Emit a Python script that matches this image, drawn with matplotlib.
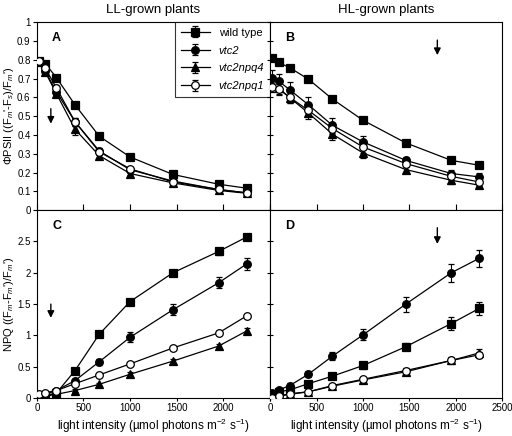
import numpy as np
import matplotlib.pyplot as plt

plt.rcParams['font.family'] = ['Liberation Sans', 'DejaVu Sans']
plt.rcParams['mathtext.fontset'] = 'custom'
plt.rcParams['mathtext.rm'] = 'Liberation Sans'
plt.rcParams['mathtext.it'] = 'Liberation Sans:italic'

# light intensities (umol photons m-2 s-1)
light = [20, 90, 210, 410, 670, 1000, 1460, 1950, 2250]

names = ['wild type', 'vtc2', 'vtc2npq4', 'vtc2npq1']

# A: PhiPSII, LL-grown
phi_ll = {
    'wild type': [0.795, 0.78, 0.705, 0.56, 0.393, 0.283, 0.19, 0.138, 0.117],
    'vtc2':      [0.79, 0.74, 0.63, 0.47, 0.315, 0.215, 0.155, 0.11, 0.092],
    'vtc2npq4':  [0.79, 0.735, 0.62, 0.43, 0.29, 0.195, 0.145, 0.105, 0.09],
    'vtc2npq1':  [0.795, 0.755, 0.65, 0.47, 0.31, 0.22, 0.15, 0.11, 0.092],
}
phi_ll_err = {
    'wild type': [0.01, 0.01, 0.01, 0.01, 0.01, 0.01, 0.01, 0.01, 0.01],
    'vtc2':      [0.01, 0.01, 0.015, 0.02, 0.015, 0.01, 0.01, 0.01, 0.01],
    'vtc2npq4':  [0.01, 0.01, 0.02, 0.03, 0.02, 0.01, 0.01, 0.01, 0.01],
    'vtc2npq1':  [0.01, 0.01, 0.015, 0.02, 0.015, 0.01, 0.01, 0.01, 0.01],
}
# B: PhiPSII, HL-grown
phi_hl = {
    'wild type': [0.809, 0.786, 0.758, 0.697, 0.591, 0.478, 0.358, 0.265, 0.239],
    'vtc2':      [0.704, 0.687, 0.64, 0.561, 0.451, 0.363, 0.265, 0.195, 0.177],
    'vtc2npq4':  [0.67, 0.65, 0.598, 0.517, 0.404, 0.304, 0.216, 0.159, 0.133],
    'vtc2npq1':  [0.658, 0.644, 0.60, 0.531, 0.434, 0.336, 0.248, 0.18, 0.15],
}
phi_hl_err = {
    'wild type': [0.01, 0.01, 0.01, 0.01, 0.01, 0.01, 0.01, 0.01, 0.01],
    'vtc2':      [0.04, 0.04, 0.04, 0.04, 0.04, 0.03, 0.02, 0.02, 0.02],
    'vtc2npq4':  [0.03, 0.03, 0.03, 0.03, 0.03, 0.025, 0.02, 0.02, 0.015],
    'vtc2npq1':  [0.03, 0.03, 0.03, 0.03, 0.03, 0.03, 0.02, 0.02, 0.02],
}
# C: NPQ, LL-grown
npq_ll = {
    'wild type': [0.02, 0.04, 0.08, 0.44, 1.02, 1.54, 2.0, 2.34, 2.57],
    'vtc2':      [0.04, 0.06, 0.12, 0.28, 0.58, 0.97, 1.41, 1.84, 2.14],
    'vtc2npq4':  [0.01, 0.03, 0.06, 0.12, 0.22, 0.38, 0.59, 0.83, 1.07],
    'vtc2npq1':  [0.07, 0.085, 0.12, 0.23, 0.37, 0.545, 0.8, 1.04, 1.31],
}
npq_ll_err = {
    'wild type': [0.01, 0.01, 0.02, 0.03, 0.03, 0.04, 0.04, 0.05, 0.05],
    'vtc2':      [0.01, 0.01, 0.02, 0.03, 0.05, 0.08, 0.09, 0.09, 0.09],
    'vtc2npq4':  [0.01, 0.01, 0.01, 0.02, 0.02, 0.03, 0.03, 0.04, 0.05],
    'vtc2npq1':  [0.01, 0.01, 0.01, 0.02, 0.02, 0.02, 0.02, 0.03, 0.03],
}
# D: NPQ, HL-grown
npq_hl = {
    'wild type': [0.07, 0.1, 0.13, 0.23, 0.35, 0.52, 0.82, 1.19, 1.43],
    'vtc2':      [0.08, 0.13, 0.2, 0.38, 0.67, 1.01, 1.5, 2.0, 2.23],
    'vtc2npq4':  [0.0, 0.03, 0.06, 0.1, 0.19, 0.29, 0.42, 0.6, 0.72],
    'vtc2npq1':  [0.0, 0.03, 0.07, 0.1, 0.2, 0.3, 0.44, 0.6, 0.69],
}
npq_hl_err = {
    'wild type': [0.01, 0.01, 0.02, 0.03, 0.04, 0.05, 0.06, 0.1, 0.11],
    'vtc2':      [0.02, 0.03, 0.04, 0.05, 0.07, 0.09, 0.12, 0.14, 0.14],
    'vtc2npq4':  [0.01, 0.01, 0.01, 0.02, 0.02, 0.03, 0.04, 0.05, 0.07],
    'vtc2npq1':  [0.01, 0.01, 0.01, 0.02, 0.02, 0.03, 0.04, 0.04, 0.05],
}

styles = {
    'wild type': dict(marker='s', mfc='black'),
    'vtc2':      dict(marker='o', mfc='black'),
    'vtc2npq4':  dict(marker='^', mfc='black'),
    'vtc2npq1':  dict(marker='o', mfc='white'),
}

fig = plt.figure(figsize=(5.12, 4.36), dpi=100)
axA = fig.add_axes([0.072, 0.518, 0.455, 0.431])
axB = fig.add_axes([0.528, 0.518, 0.453, 0.431])
axC = fig.add_axes([0.072, 0.087, 0.455, 0.431])
axD = fig.add_axes([0.528, 0.087, 0.453, 0.431])


def draw(ax, data, err):
    handles = []
    for n in names:
        st = styles[n]
        h = ax.errorbar(light, data[n], yerr=err[n], color='black', lw=0.9,
                        marker=st['marker'], mfc=st['mfc'], mec='black',
                        ms=5.5, mew=0.9, capsize=2.5, elinewidth=0.8,
                        capthick=0.8, zorder=3)
        handles.append(h)
    ax.set_xlim(0, 2500)
    ax.set_xticks([0, 500, 1000, 1500, 2000, 2500])
    return handles


hs = draw(axA, phi_ll, phi_ll_err)
draw(axB, phi_hl, phi_hl_err)
draw(axC, npq_ll, npq_ll_err)
draw(axD, npq_hl, npq_hl_err)

for ax in (axA, axB):
    ax.set_ylim(0, 1)
    ax.set_yticks(np.arange(0, 1.01, 0.1))
    ax.tick_params(axis='x', direction='in', labelbottom=False, length=4)
for ax in (axC, axD):
    ax.set_ylim(0, 3)
    ax.set_yticks([0, 0.5, 1, 1.5, 2, 2.5])
    ax.tick_params(axis='x', direction='out', labelsize=7, length=2, pad=1.5)
    ax.set_xlabel('light intensity (µmol photons m$^{-2}$ s$^{-1}$)',
                  fontsize=8.5, labelpad=3)
axC.set_xticklabels(['0', '500', '1000', '1500', '2000', ''])

axA.set_yticklabels(['0', '0.1', '0.2', '0.3', '0.4', '0.5', '0.6', '0.7', '0.8', '0.9', '1'])
axC.set_yticklabels(['0', '0.5', '1', '1.5', '2', '2.5'])
for ax in (axA, axC):
    ax.tick_params(axis='y', direction='out', labelsize=7, length=3, pad=1.5)
for ax in (axB, axD):
    ax.tick_params(axis='y', direction='inout', labelleft=False, length=5)

axA.set_ylabel(r"$\Phi$PSII ((F$_m$'-F$_s$)/F$_m$')", fontsize=8, labelpad=1)
axC.set_ylabel(r"NPQ ((F$_m$-F$_m$')/F$_m$')", fontsize=8, labelpad=1)

axA.set_title('LL-grown plants', fontsize=9.5, pad=7)
axB.set_title('HL-grown plants', fontsize=9.5, pad=7)

for ax, lab in zip((axA, axB, axC, axD), 'ABCD'):
    ax.text(0.065, 0.915, lab, transform=ax.transAxes, fontsize=9,
            fontweight='bold', ha='left', va='center')

arrow = dict(arrowstyle='-|>', color='black', lw=1, mutation_scale=10,
             shrinkA=0, shrinkB=0)
axA.annotate('', xy=(150, 0.46), xytext=(150, 0.54), arrowprops=arrow)
axB.annotate('', xy=(1800, 0.825), xytext=(1800, 0.905), arrowprops=arrow)
axC.annotate('', xy=(150, 1.28), xytext=(150, 1.5), arrowprops=arrow)
axD.annotate('', xy=(1800, 2.46), xytext=(1800, 2.72), arrowprops=arrow)

leg = axA.legend(hs, names, loc='upper right', bbox_to_anchor=(1.0, 1.0),
                 fontsize=8, frameon=True, fancybox=False, edgecolor='black',
                 handlelength=2.6, borderpad=0.5, labelspacing=0.7,
                 borderaxespad=0)
leg.get_frame().set_linewidth(0.8)
for t in leg.get_texts()[1:]:
    t.set_style('italic')

fig.savefig('out.png', dpi=100)
